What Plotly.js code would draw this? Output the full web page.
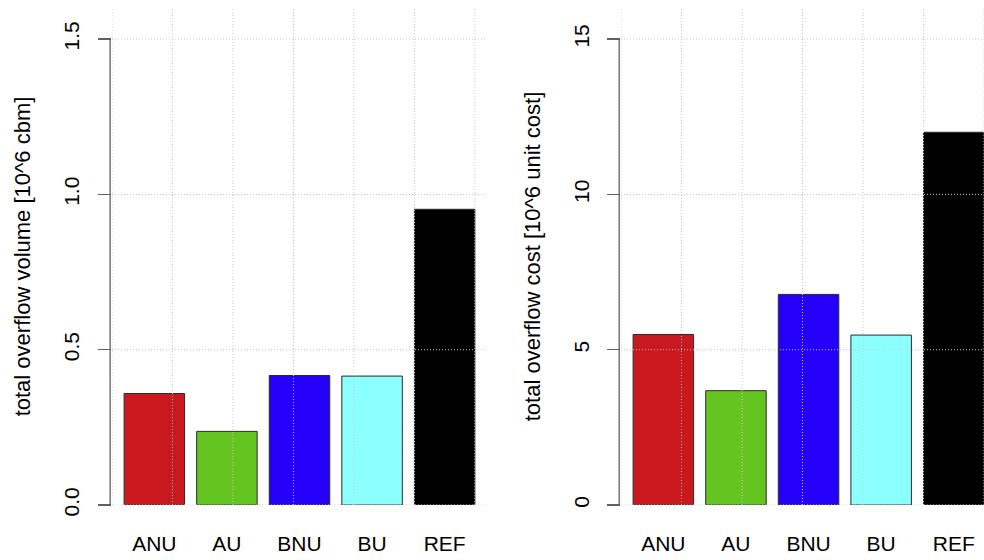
<!DOCTYPE html>
<html>
<head>
<meta charset="utf-8">
<script src="https://cdn.plot.ly/plotly-3.0.1.min.js"></script>
<style>html,body{margin:0;padding:0;background:#fff;}#chart{width:984px;height:560px;}</style>
</head>
<body>
<div id="chart"></div>
<script>
// ---- data ----
const categories = ['ANU', 'AU', 'BNU', 'BU', 'REF'];
const volume = [0.359, 0.237, 0.417, 0.415, 0.952];   // 10^6 cbm
const cost = [5.49, 3.68, 6.78, 5.47, 12.0];          // 10^6 unit cost
const volumeTicks = [0, 0.5, 1.0, 1.5];
const volumeTickText = ['0.0', '0.5', '1.0', '1.5'];
const costTicks = [0, 5, 10, 15];
const costTickText = ['0', '5', '10', '15'];
const barColors = ['#C9191E', '#64C420', '#2400F8', '#8CFFFF', '#000000'];

// ---- barplot layout (width 1, space 0.2, like R barplot) ----
const barWidth = 1, space = 0.2;
const positions = categories.map((_, i) => space + barWidth / 2 + i * (barWidth + space));

const FONT = 'Liberation Sans, Arial, Helvetica, sans-serif';
const gridColor = '#c8c8c8';
const axisColor = '#606060';

function barTrace(vals, xa, ya) {
  return {
    type: 'bar', x: positions, y: vals, width: barWidth,
    xaxis: xa, yaxis: ya,
    marker: { color: barColors, line: { color: '#2a2a2a', width: 1 } },
    hoverinfo: 'skip', showlegend: false
  };
}

function xAxis(domain, range, anchor) {
  return {
    domain: domain, range: range, anchor: anchor, fixedrange: true,
    tickmode: 'array', tickvals: positions, ticktext: categories,
    ticks: 'outside', ticklen: 0, ticklabelstandoff: 20,
    tickfont: { family: FONT, size: 21, color: '#000' },
    showgrid: false, zeroline: false, showline: false
  };
}

function yAxis(domain, range, tickv, tickt, title, anchor, standoff, labStand) {
  return {
    domain: domain, range: range, anchor: anchor, fixedrange: true,
    tickmode: 'array', tickvals: tickv, ticktext: tickt, tickangle: -90,
    ticks: 'outside', ticklen: 13, tickcolor: axisColor, tickwidth: 1.3,
    ticklabelstandoff: labStand,
    tickfont: { family: FONT, size: 21, color: '#000' },
    showgrid: false, zeroline: false, showline: false,
    title: { text: title, font: { family: FONT, size: 22, color: '#000' }, standoff: standoff }
  };
}

const yDomain = [55 / 560, 552 / 560];
const leftXRange = [0, 6.2];
const rightXRange = [0, 6.0];

const shapes = [];
function addGrid(xref, yref, xRange, yTicks) {
  for (let g = Math.ceil(xRange[0]); g <= Math.floor(xRange[1]); g++) {
    shapes.push({ type: 'line', layer: 'above', xref: xref, yref: yref + ' domain',
      x0: g, x1: g, y0: 0, y1: 1, line: { color: gridColor, width: 1, dash: '1px,2px' } });
  }
  yTicks.forEach(t => shapes.push({ type: 'line', layer: 'above', xref: xref + ' domain', yref: yref,
    x0: 0, x1: 1, y0: t, y1: t, line: { color: gridColor, width: 1, dash: '1px,2px' } }));
  // R-style axis line spanning first to last tick
  shapes.push({ type: 'line', layer: 'above', xref: xref + ' domain', yref: yref,
    x0: -0.005, x1: -0.005, y0: yTicks[0], y1: yTicks[yTicks.length - 1],
    line: { color: axisColor, width: 1.3 } });
}
addGrid('x', 'y', leftXRange, volumeTicks);
addGrid('x2', 'y2', rightXRange, costTicks);

const layout = {
  width: 984, height: 560,
  margin: { l: 0, r: 0, t: 0, b: 0 },
  paper_bgcolor: '#fff', plot_bgcolor: '#fff',
  font: { family: FONT, color: '#000' },
  bargap: 0,
  xaxis: xAxis([112 / 984, 487 / 984], leftXRange, 'y'),
  yaxis: yAxis(yDomain, [0, 1.6], volumeTicks, volumeTickText, 'total overflow volume [10^6 cbm]', 'x', 22, 11),
  xaxis2: xAxis([621 / 984, 1], rightXRange, 'y2'),
  yaxis2: yAxis(yDomain, [0, 16], costTicks, costTickText, 'total overflow cost [10^6 unit cost]', 'x2', 22, 10),
  shapes: shapes
};

Plotly.newPlot('chart', [barTrace(volume, 'x', 'y'), barTrace(cost, 'x2', 'y2')], layout,
  { staticPlot: true, displayModeBar: false });
</script>
</body>
</html>
